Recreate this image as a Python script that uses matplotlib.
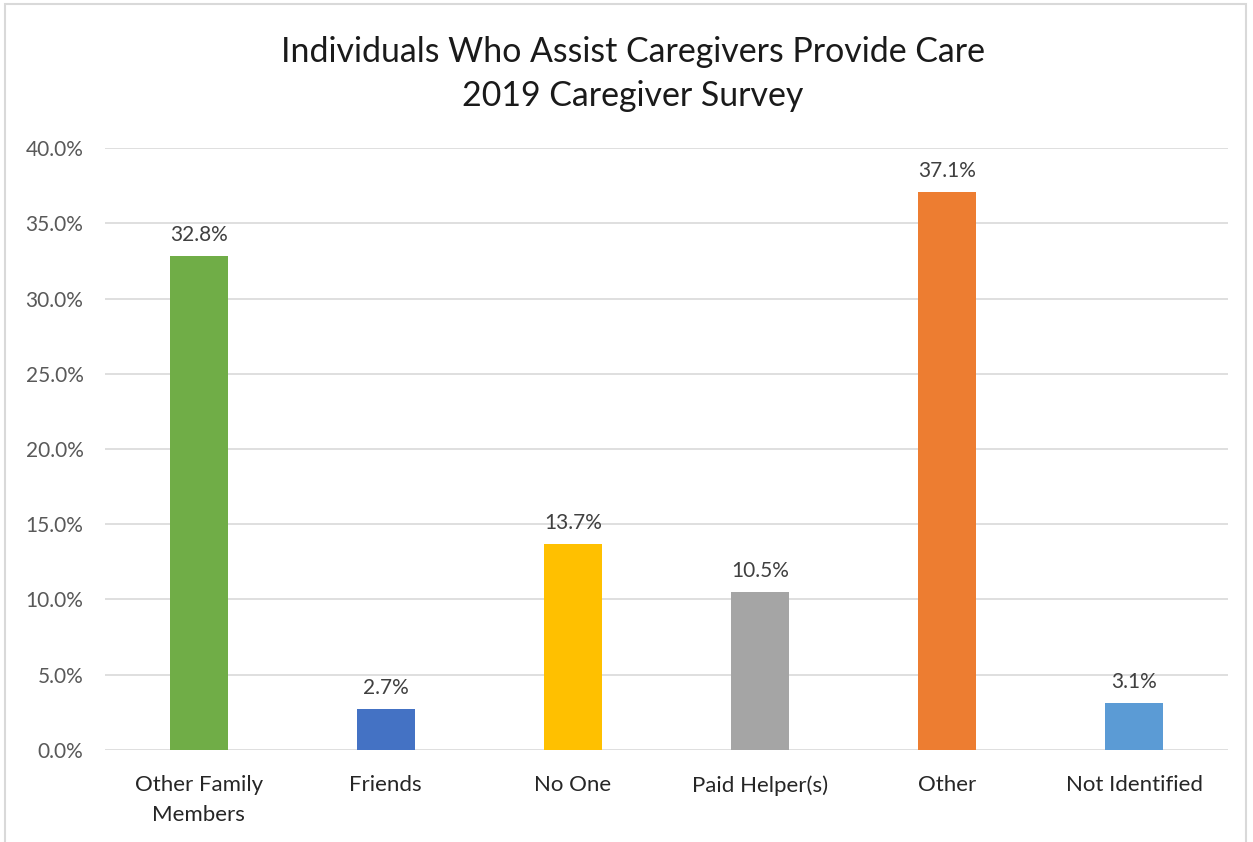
import matplotlib.pyplot as plt
from matplotlib.patches import Rectangle
from matplotlib.ticker import FuncFormatter

# Survey results
categories = ["Other Family\nMembers", "Friends", "No One", "Paid Helper(s)", "Other", "Not Identified"]
values = [32.8, 2.7, 13.7, 10.5, 37.1, 3.1]
colors = ["#70AD47", "#4472C4", "#FFC000", "#A5A5A5", "#ED7D31", "#5B9BD5"]

plt.rcParams['font.family'] = ['Lato', 'DejaVu Sans']

fig = plt.figure(figsize=(12.53, 8.42), dpi=100)
ax = fig.add_axes([0.0838, 0.1093, 0.8962, 0.7149])

x = range(len(categories))
ax.bar(x, values, width=0.31, color=colors, zorder=3)

# data labels
for i, v in enumerate(values):
    ax.annotate(f"{v:.1f}%", (i, v), textcoords="offset points", xytext=(0, 8),
                ha='center', va='bottom', fontsize=15, color='#404040')

ax.set_xlim(-0.5, len(categories) - 0.5)
ax.set_ylim(0, 40)
ax.set_yticks([0, 5, 10, 15, 20, 25, 30, 35, 40])
ax.yaxis.set_major_formatter(FuncFormatter(lambda v, p: f"{v:.1f}%"))
ax.set_xticks(list(x))
ax.set_xticklabels(categories, linespacing=1.6)
ax.grid(axis='y', color='#D9D9D9', linewidth=1.2, zorder=0)
ax.tick_params(axis='y', length=0, labelsize=15, labelcolor='#595959', pad=15.5)
ax.tick_params(axis='x', length=0, labelsize=16, labelcolor='#262626', pad=18)
for s in ax.spines.values():
    s.set_visible(False)

fig.text(0.505, 0.912, "Individuals Who Assist Caregivers Provide Care\n2019 Caregiver Survey",
         ha='center', va='center', fontsize=24.4, color='#1a1a1a', linespacing=1.45)

# chart border
fig.patches.append(Rectangle((5 / 1253, -0.05), 1241 / 1253, 1.05 - 4 / 842,
                             transform=fig.transFigure, fill=False,
                             edgecolor='#D9D9D9', linewidth=1.5))

fig.savefig("out.png", dpi=100)
